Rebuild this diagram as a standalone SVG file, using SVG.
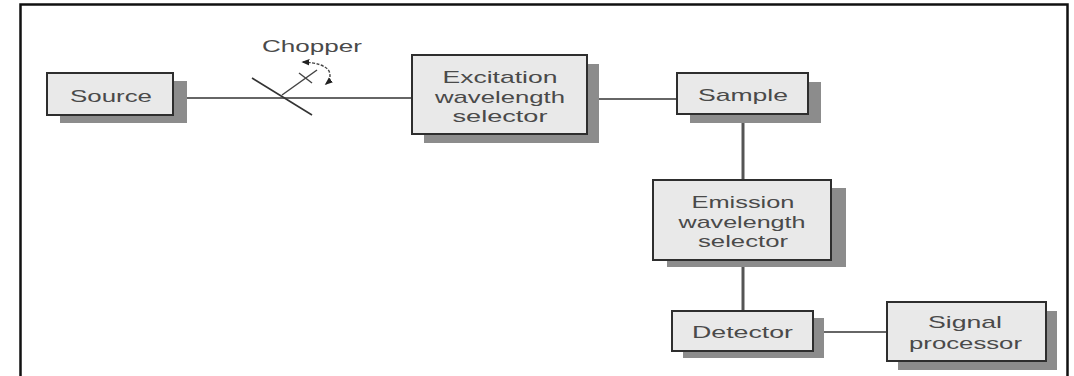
<svg xmlns="http://www.w3.org/2000/svg" width="1074" height="376" viewBox="0 0 1074 376">
<style>
.box{fill:#e9e9e9;stroke:#2e2e2e;stroke-width:2}
.shadow{fill:#8c8c8c}
.lbl{font-family:"Liberation Sans",Arial,sans-serif;font-size:17px;fill:#4a4a4a;text-anchor:middle}
.conn{stroke:#333;stroke-width:1.6;fill:none}
.vconn{stroke:#555;stroke-width:3;fill:none}
</style>
<defs>
<marker id="ah" viewBox="0 0 10 10" refX="8" refY="5" markerWidth="8" markerHeight="8" markerUnits="userSpaceOnUse" orient="auto-start-reverse">
<path d="M0,1 L10,5 L0,9 z" fill="#222"/>
</marker>
</defs>
<rect x="0" y="0" width="1074" height="376" fill="#fff"/>
<rect x="20.5" y="4.5" width="1047" height="400" fill="none" stroke="#111" stroke-width="2.5"/>

<g id="connectors">
<line class="conn" x1="173" y1="98" x2="412" y2="98"/>
<line class="conn" x1="587" y1="99" x2="677" y2="99"/>
<line class="vconn" x1="743" y1="114" x2="743" y2="180"/>
<line class="vconn" x1="743" y1="260" x2="743" y2="311"/>
<line class="conn" x1="813" y1="332" x2="887" y2="332" stroke="#555"/>
</g>

<g id="chopper">
<text class="lbl" x="312" y="52" textLength="100" lengthAdjust="spacingAndGlyphs">Chopper</text>
<line x1="252" y1="78" x2="312" y2="115" stroke="#333" stroke-width="1.6"/>
<line x1="282" y1="95" x2="317" y2="70" stroke="#444" stroke-width="1.5"/>
<line x1="299" y1="73" x2="312" y2="83" stroke="#444" stroke-width="1.4"/>
<path d="M303,62 Q324,63 329,71 Q332,79 326,84" fill="none" stroke="#444" stroke-width="1.4" stroke-dasharray="3,1.5" marker-start="url(#ah)" marker-end="url(#ah)"/>
</g>

<g id="source">
<rect class="shadow" x="60" y="81" width="127" height="42"/>
<rect class="box" x="47" y="73" width="126" height="42"/>
<text class="lbl" x="111" y="102" textLength="82" lengthAdjust="spacingAndGlyphs">Source</text>
</g>

<g id="excitation">
<rect class="shadow" x="424" y="64" width="175" height="79"/>
<rect class="box" x="412" y="55" width="175" height="79"/>
<text class="lbl" x="500" y="83" textLength="115" lengthAdjust="spacingAndGlyphs">Excitation</text>
<text class="lbl" x="500" y="102.5" textLength="130" lengthAdjust="spacingAndGlyphs">wavelength</text>
<text class="lbl" x="500" y="122" textLength="95" lengthAdjust="spacingAndGlyphs">selector</text>
</g>

<g id="sample">
<rect class="shadow" x="690" y="82" width="131" height="41"/>
<rect class="box" x="677" y="73" width="131" height="41"/>
<text class="lbl" x="743" y="101" textLength="90" lengthAdjust="spacingAndGlyphs">Sample</text>
</g>

<g id="emission">
<rect class="shadow" x="667" y="188" width="179" height="79"/>
<rect class="box" x="653" y="180" width="178" height="80"/>
<text class="lbl" x="743" y="208" textLength="103" lengthAdjust="spacingAndGlyphs">Emission</text>
<text class="lbl" x="742" y="227.5" textLength="127" lengthAdjust="spacingAndGlyphs">wavelength</text>
<text class="lbl" x="743" y="247" textLength="90" lengthAdjust="spacingAndGlyphs">selector</text>
</g>

<g id="detector">
<rect class="shadow" x="683" y="318" width="141" height="40"/>
<rect class="box" x="672" y="311" width="141" height="40"/>
<text class="lbl" x="742.5" y="338" textLength="101" lengthAdjust="spacingAndGlyphs">Detector</text>
</g>

<g id="signal">
<rect class="shadow" x="898" y="311" width="159" height="59"/>
<rect class="box" x="887" y="302" width="159" height="59"/>
<text class="lbl" x="965" y="328" textLength="74" lengthAdjust="spacingAndGlyphs">Signal</text>
<text class="lbl" x="965.5" y="349" textLength="113" lengthAdjust="spacingAndGlyphs">processor</text>
</g>
</svg>
